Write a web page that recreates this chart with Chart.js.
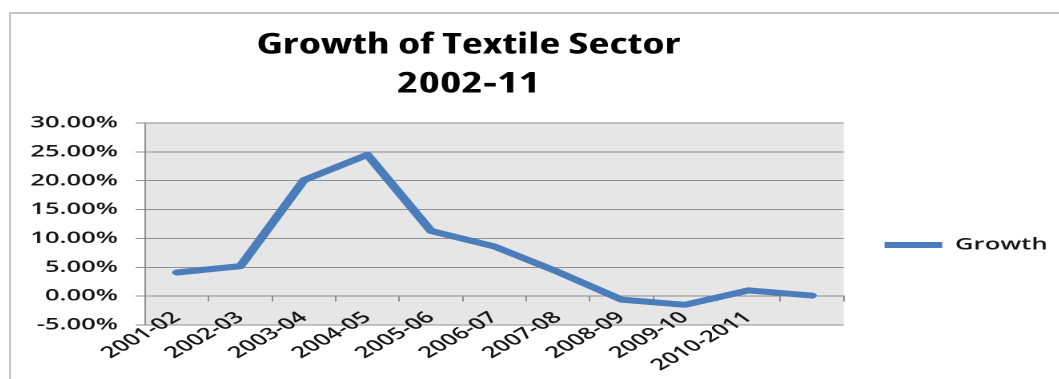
<!DOCTYPE html>
<html>
<head>
<meta charset="utf-8">
<script src="https://cdn.jsdelivr.net/npm/chart.js@4.4.1/dist/chart.umd.min.js"></script>
<style>
  html, body { margin: 0; padding: 0; background: #fff; overflow: hidden; width: 1059px; height: 379px; }
  #frame { position: absolute; left: 9px; top: 12px; width: 1100px; height: 400px;
           border-top: 2px solid #c4c4c4; border-left: 2px solid #c4c4c4; box-sizing: border-box; }
  #wrap { position: absolute; left: -123px; top: 0; width: 738.75px; height: 379px;
          transform: scaleX(1.6); transform-origin: 0 0; }
</style>
</head>
<body>
<div id="frame"></div>
<div id="wrap"><canvas id="c"></canvas></div>
<script>
// ---- data ----
const categories = ['2001-02', '2002-03', '2003-04', '2004-05', '2005-06', '2006-07',
                    '2007-08', '2008-09', '2009-10', '2010-2011', ''];
const growth = [0.041, 0.052, 0.201, 0.245, 0.113, 0.086, 0.042, -0.006, -0.015, 0.010, 0.001];
const seriesName = 'Growth';
const titleLines = ['Growth of Textile Sector', '2002-11'];
const yMin = -0.05, yMax = 0.30, yStep = 0.05;

// ---- styles ----
const lineColor = '#4a7dba';
const gridColor = '#8f8f8f';
const textColor = '#161616';
const axisFont = { family: "'Open Sans', sans-serif", size: 16, weight: '600' };

const plotBg = {
  id: 'plotBg',
  beforeDraw(chart) {
    const { ctx, chartArea: a } = chart;
    ctx.save();
    ctx.fillStyle = '#e6e6e6';
    ctx.fillRect(a.left, a.top, a.right - a.left, a.bottom - a.top);
    ctx.restore();
  }
};

new Chart(document.getElementById('c'), {
  type: 'line',
  data: {
    labels: categories,
    datasets: [{
      label: seriesName,
      data: growth,
      borderColor: lineColor,
      backgroundColor: lineColor,
      borderWidth: 6,
      borderCapStyle: 'round',
      borderJoinStyle: 'round',
      pointRadius: 0,
      pointHoverRadius: 0,
      tension: 0,
      fill: false,
      xAxisID: 'x',
      yAxisID: 'y'
    }]
  },
  options: {
    responsive: true,
    maintainAspectRatio: false,
    animation: false,
    devicePixelRatio: 2,
    layout: { padding: { left: 0, right: 0, top: 0, bottom: 54 } },
    plugins: {
      tooltip: { enabled: false },
      title: {
        display: true,
        text: titleLines,
        color: '#000',
        font: { family: "'Open Sans', sans-serif", size: 28.6, weight: 'bold condensed', lineHeight: 1.364 },
        padding: { top: 26, bottom: 19 }
      },
      legend: {
        display: true,
        position: 'right',
        fullSize: false,
        align: 'center',
        maxWidth: 135,
        title: { display: true, text: '', font: { size: 10, lineHeight: 1 }, padding: { top: 32, bottom: 0 } },
        labels: {
          usePointStyle: true,
          pointStyle: 'line',
          pointStyleWidth: 36,
          padding: 25.5,
          color: textColor,
          font: axisFont
        }
      }
    },
    scales: {
      x: {
        type: 'category',
        offset: true,
        display: false
      },
      x2: {
        type: 'category',
        axis: 'x',
        labels: categories,
        position: { y: 0 },
        offset: true,
        grid: { drawOnChartArea: false, drawTicks: true, tickLength: 5, offset: true, color: gridColor },
        border: { display: true, color: gridColor, width: 1 },
        ticks: { autoSkip: false, minRotation: 42, maxRotation: 42, color: textColor, font: axisFont, padding: 7 }
      },
      y: {
        type: 'linear',
        min: yMin,
        max: yMax,
        ticks: {
          stepSize: yStep,
          color: textColor,
          font: axisFont,
          padding: 11,
          callback: v => (Math.round(v * 10000) / 100).toFixed(2) + '%'
        },
        grid: { color: gridColor, drawTicks: true, tickLength: 6 },
        border: { display: true, color: gridColor },
        afterFit(s) { s.width = 167.5; }
      }
    }
  },
  plugins: [plotBg]
});
</script>
</body>
</html>
